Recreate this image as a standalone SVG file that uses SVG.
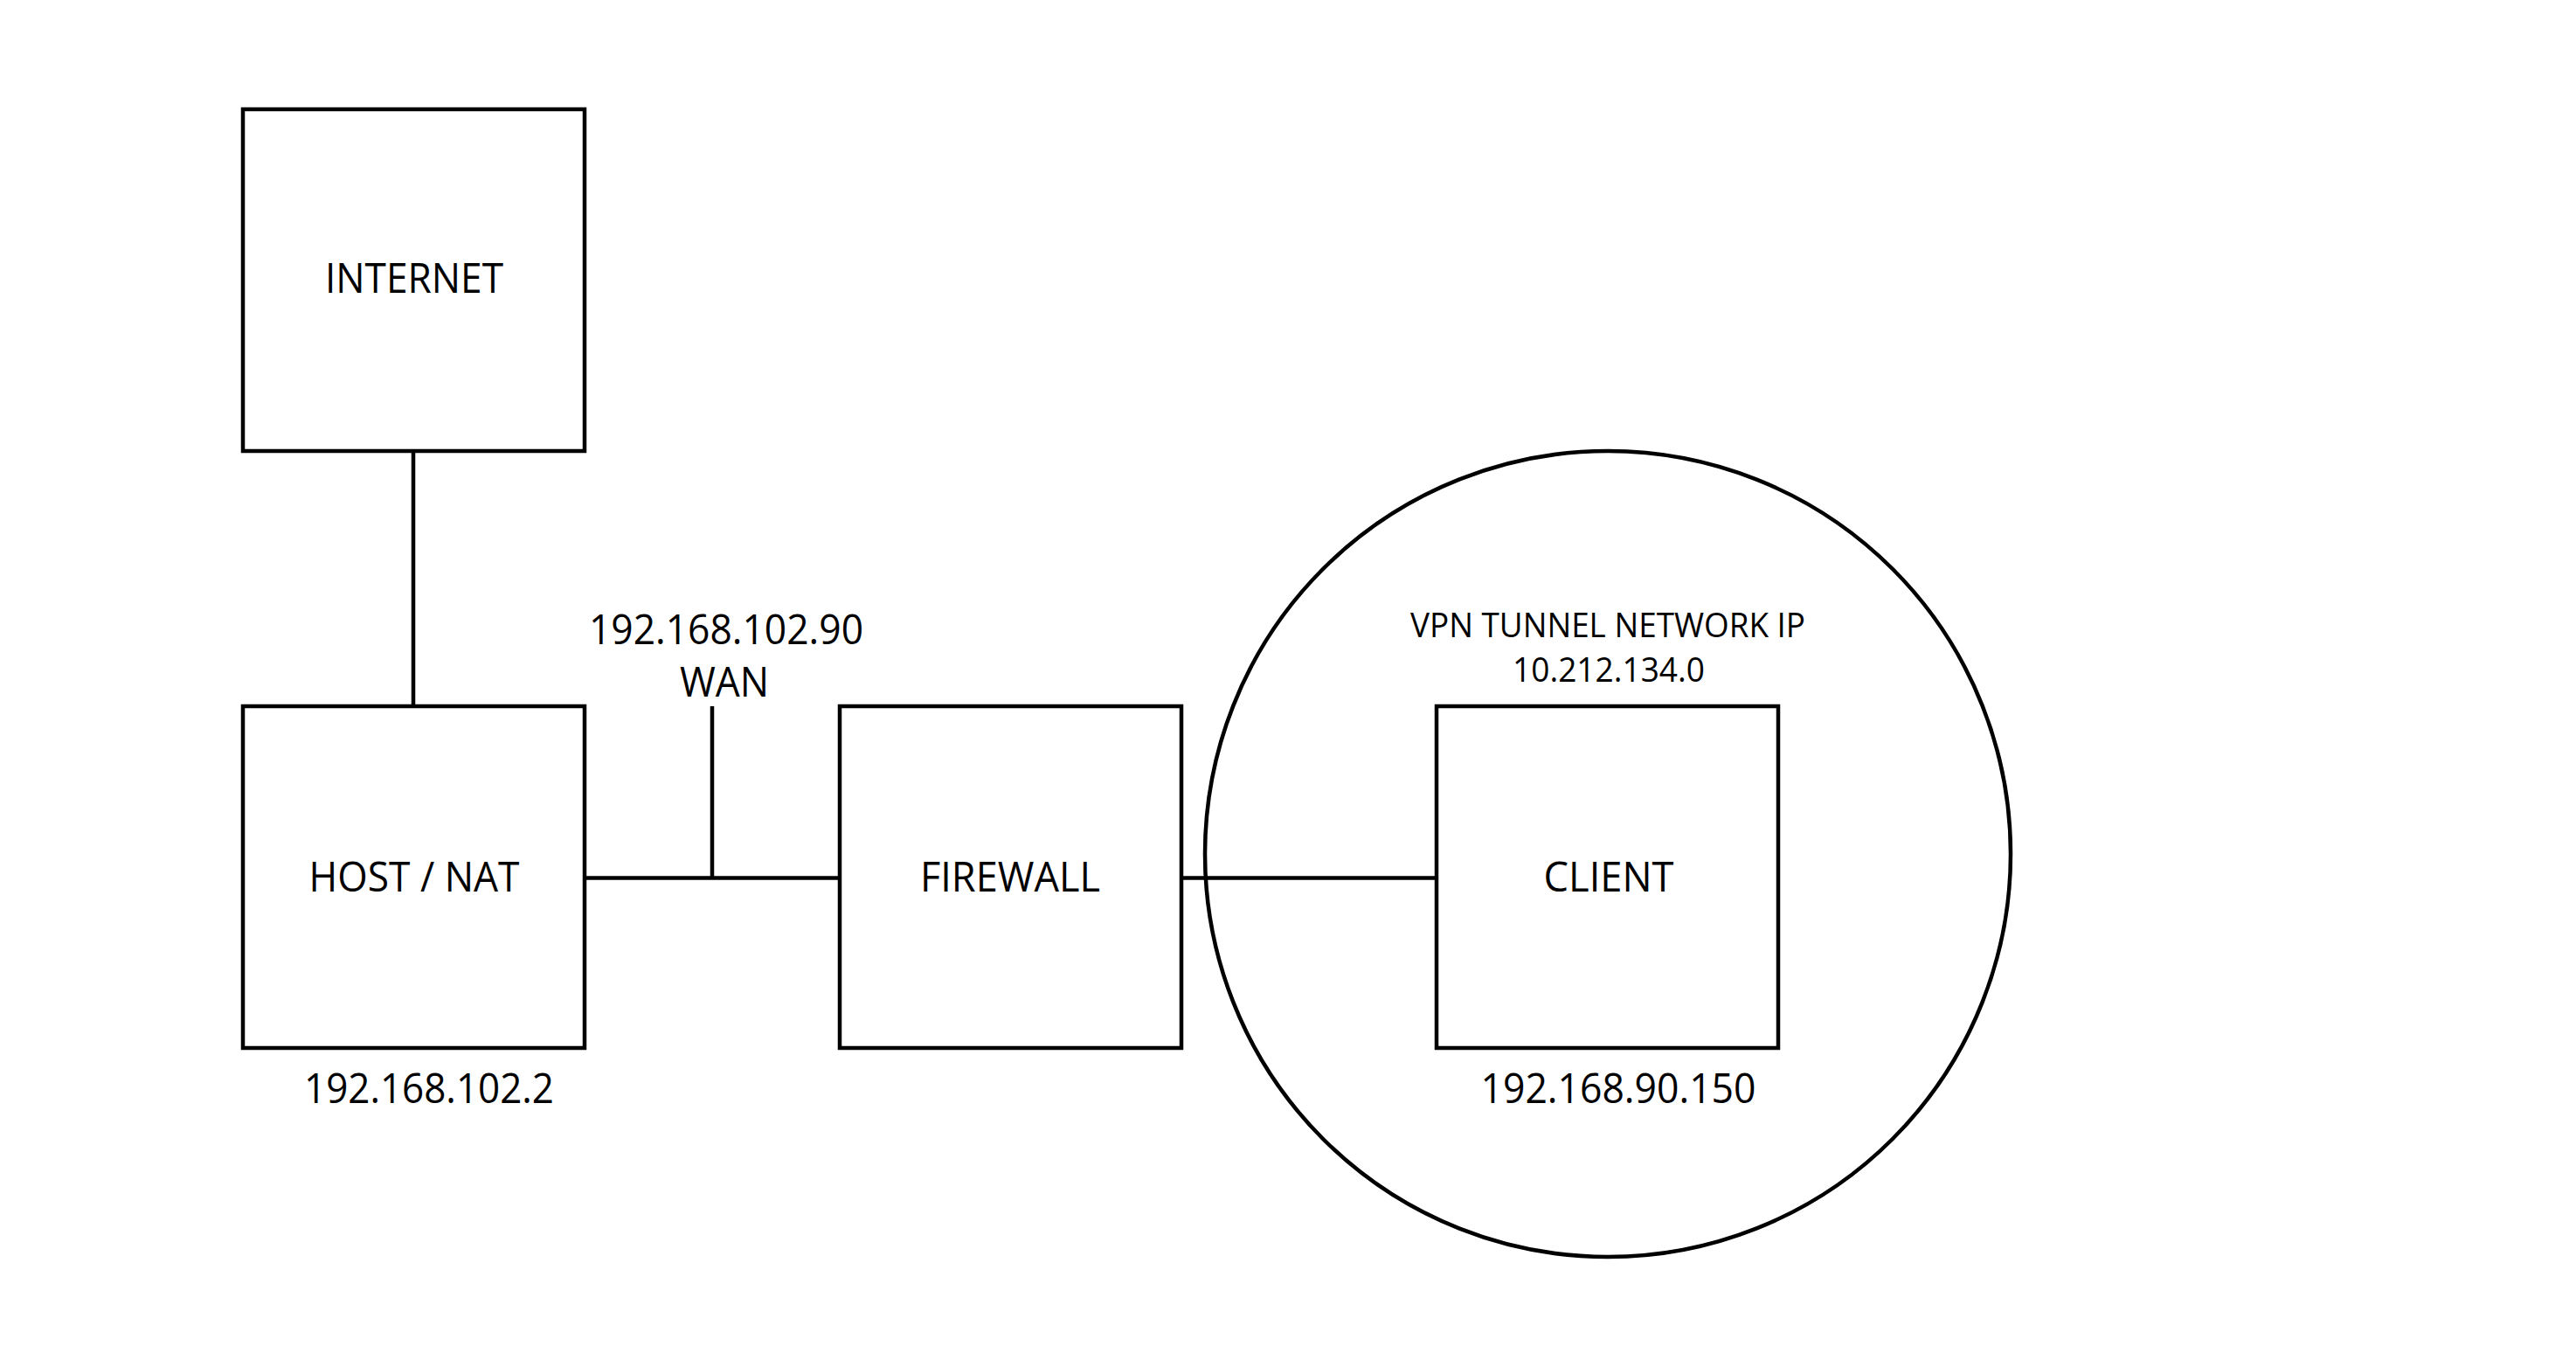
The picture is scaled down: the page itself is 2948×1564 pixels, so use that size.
<svg xmlns="http://www.w3.org/2000/svg" width="2948" height="1564" viewBox="0 0 2948 1564">
<style>
.box{fill:none;stroke:#000;stroke-width:4.5}
.ln{fill:none;stroke:#000;stroke-width:4.5}
.t{font-family:"Open Sans","Liberation Sans",sans-serif;font-size:47px;fill:#000;text-anchor:middle}
.s{font-size:39px}
</style>
<rect width="2948" height="1564" fill="#fff"/>
<g id="connectors">
<line class="ln" x1="473" y1="516" x2="473" y2="808"/>
<line class="ln" x1="669" y1="1004.5" x2="961" y2="1004.5"/>
<line class="ln" x1="815" y1="808" x2="815" y2="1004.5"/>
<line class="ln" x1="1352" y1="1004.5" x2="1644" y2="1004.5"/>
</g>
<g id="vpn-tunnel">
<circle class="box" cx="1840" cy="977" r="461"/>
<text class="t s" x="1840" y="729" textLength="452" lengthAdjust="spacingAndGlyphs">VPN TUNNEL NETWORK IP</text>
<text class="t s" x="1841" y="780" textLength="220" lengthAdjust="spacingAndGlyphs">10.212.134.0</text>
</g>
<g id="internet">
<rect class="box" x="278" y="125" width="391" height="391"/>
<text class="t" x="474" y="335" textLength="204" lengthAdjust="spacingAndGlyphs">INTERNET</text>
</g>
<g id="host-nat">
<rect class="box" x="278" y="808" width="391" height="391"/>
<text class="t" x="474" y="1020" textLength="241" lengthAdjust="spacingAndGlyphs">HOST / NAT</text>
<text class="t" x="491" y="1262" textLength="286" lengthAdjust="spacingAndGlyphs">192.168.102.2</text>
</g>
<g id="wan">
<text class="t" x="831" y="737" textLength="314" lengthAdjust="spacingAndGlyphs">192.168.102.90</text>
<text class="t" x="829" y="797" textLength="102" lengthAdjust="spacingAndGlyphs">WAN</text>
</g>
<g id="firewall">
<rect class="box" x="961" y="808" width="391" height="391"/>
<text class="t" x="1156" y="1020" textLength="206" lengthAdjust="spacingAndGlyphs">FIREWALL</text>
</g>
<g id="client">
<rect class="box" x="1644" y="808" width="391" height="391"/>
<text class="t" x="1841" y="1020" textLength="149" lengthAdjust="spacingAndGlyphs">CLIENT</text>
<text class="t" x="1852" y="1262" textLength="315" lengthAdjust="spacingAndGlyphs">192.168.90.150</text>
</g>
</svg>
